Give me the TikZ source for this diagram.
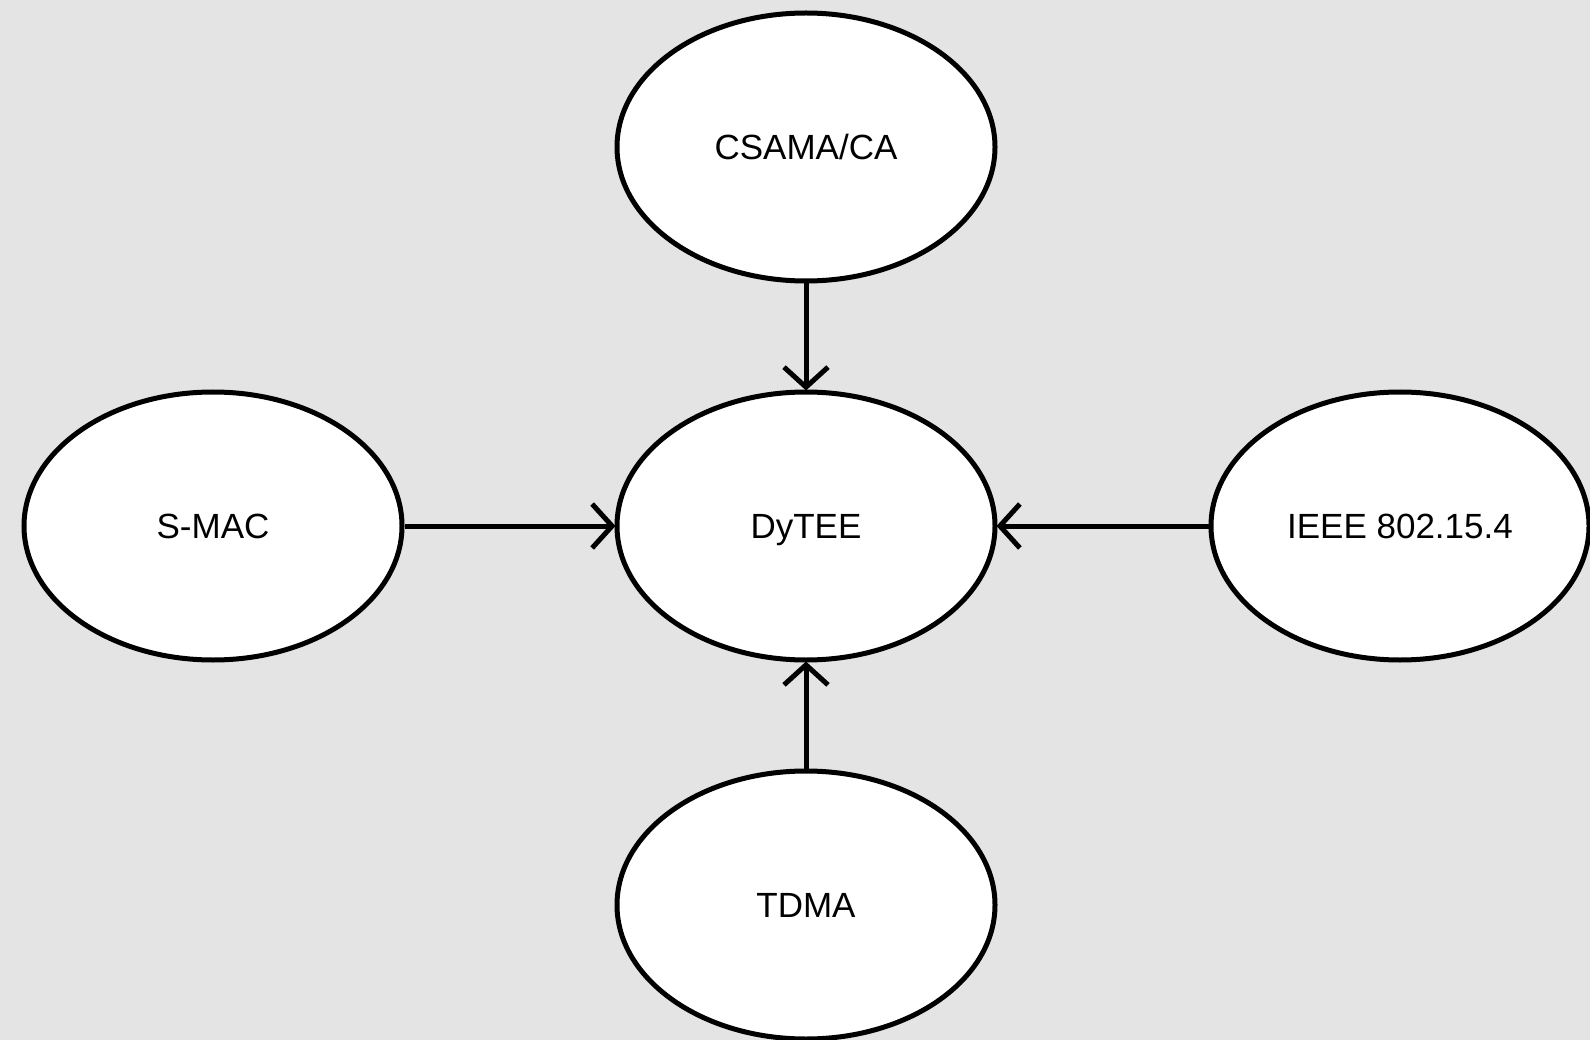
\documentclass[tikz,border=0pt]{standalone}
\usepackage{fontspec}
\setmainfont{Liberation Sans}
\usetikzlibrary{shapes.geometric,arrows.meta}
\begin{document}
\begin{tikzpicture}[x=1pt,y=-1pt,
  oval/.style={ellipse,draw=black,line width=5pt,fill=white,minimum width=378pt,minimum height=268pt,inner sep=0pt,text height=25pt,text depth=0pt,font=\fontsize{35}{40}\selectfont},
  conn/.style={line width=5pt,-{Straight Barb[length=20pt,width=44pt,line width=5pt]},shorten >=-1pt}]
\fill[fill={rgb,255:red,228;green,228;blue,228}] (0,0) rectangle (1590,1040);
\useasboundingbox (0,0) rectangle (1590,1040);
\node[oval] (csma) at (806,147) {CSAMA/CA};
\node[oval] (dytee) at (806,526) {DyTEE};
\node[oval] (smac) at (213,526) {S-MAC};
\node[oval] (ieee) at (1400,526) {IEEE 802.15.4};
\node[oval] (tdma) at (806,905) {TDMA};
\draw[conn] (csma) -- (dytee);
\draw[conn] (smac) -- (dytee);
\draw[conn] (ieee) -- (dytee);
\draw[conn] (tdma) -- (dytee);
\end{tikzpicture}
\end{document}
